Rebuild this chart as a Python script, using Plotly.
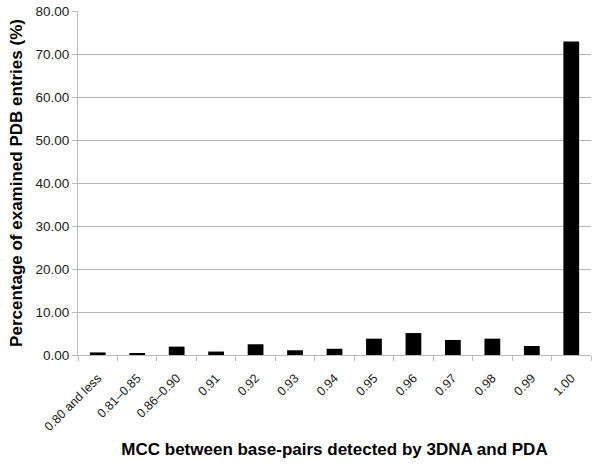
import plotly.graph_objects as go

categories = ["0.80 and less", "0.81\u20130.85", "0.86\u20130.90", "0.91", "0.92", "0.93",
              "0.94", "0.95", "0.96", "0.97", "0.98", "0.99", "1.00"]
percentages = [0.6, 0.45, 1.95, 0.8, 2.5, 1.1, 1.45, 3.8, 5.1, 3.5, 3.8, 2.1, 72.9]
y_ticks = [0, 10, 20, 30, 40, 50, 60, 70, 80]
y_tick_labels = ["%.2f" % v for v in y_ticks]

fig = go.Figure(go.Bar(x=categories, y=percentages, marker=dict(color="black", line=dict(width=0))))

font = "Liberation Sans, Arial, sans-serif"
fig.update_layout(
    width=600, height=467,
    margin=dict(l=78, r=9, t=11, b=112),
    paper_bgcolor="white", plot_bgcolor="white",
    bargap=0.6,
    showlegend=False,
    font=dict(family=font, color="black"),
)
fig.update_xaxes(
    type="category",
    tickangle=-45,
    tickfont=dict(size=12.5, family=font, color="#222"),
    ticks="outside", tickson="boundaries", ticklen=5, tickcolor="#bbbbbb",
    ticklabelstandoff=10,
    showline=True, linecolor="#bbbbbb", linewidth=1,
    showgrid=False,
    title=dict(text="<b>MCC between base-pairs detected by 3DNA and PDA</b>",
               font=dict(size=17, family=font, color="black"), standoff=10),
    automargin=False,
)
fig.update_yaxes(
    range=[0, 80],
    tickvals=y_ticks, ticktext=y_tick_labels,
    tickfont=dict(size=13.5, family=font, color="#222"),
    ticks="outside", ticklen=5, tickcolor="#bbbbbb",
    showline=True, linecolor="#bbbbbb", linewidth=1,
    showgrid=True, gridcolor="#b4b4b4", gridwidth=1,
    zeroline=False,
    title=dict(text="<b>Percentage of examined PDB entries (%)</b>",
               font=dict(size=17, family=font, color="black"), standoff=8),
    automargin=False,
)
fig.write_html("out.html", config={"displayModeBar": False},
               post_script="document.body.style.margin='0';")
